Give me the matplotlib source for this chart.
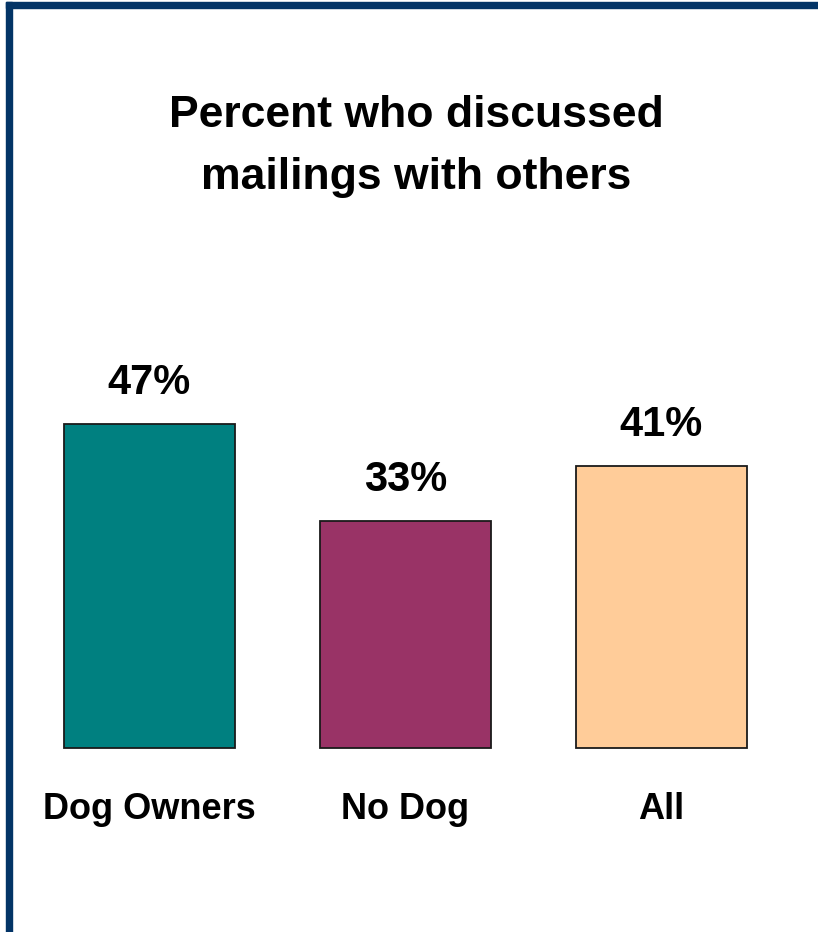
import matplotlib.pyplot as plt
from matplotlib.patches import Rectangle

categories = ["Dog Owners", "No Dog", "All"]
values = [47, 33, 41]
colors = ["#008080", "#993366", "#FFCC99"]

plt.rcParams['font.family'] = ['Liberation Sans', 'DejaVu Sans']

fig = plt.figure(figsize=(8.18, 9.32), dpi=100)
ax = fig.add_axes([0, 0, 1, 1])

# scale: 256 px per category, ~6.89 px per percent point
px_x = 256.0
px_y = 6.89
ax.set_xlim(-149.5 / px_x, (818 - 149.5) / px_x)
ax.set_ylim(-184 / px_y, (932 - 184) / px_y)
ax.axis('off')

xs = range(len(categories))
ax.bar(xs, values, width=171 / px_x, color=colors, edgecolor='#1a1a1a', linewidth=1.3)

for x, v in zip(xs, values):
    ax.text(x, v + 30 / px_y, "{}%".format(v), ha='center', va='baseline',
            fontsize=30, fontweight='bold')

for x, c in zip(xs, categories):
    ax.text(x, -71 / px_y, c, ha='center', va='baseline',
            fontsize=26, fontweight='bold')

fig.text(416.5 / 818, 1 - 127 / 932, "Percent who discussed", ha='center',
         va='baseline', fontsize=32, fontweight='bold')
fig.text(416.5 / 818, 1 - 189 / 932, "mailings with others", ha='center',
         va='baseline', fontsize=32, fontweight='bold')

# dark blue frame on left and top
navy = "#033466"
fig.patches.append(Rectangle((6 / 818, 0), 6 / 818, 1 - 2 / 932, transform=fig.transFigure,
                             color=navy, zorder=5))
fig.patches.append(Rectangle((6 / 818, 1 - 8 / 932), 1, 6 / 932, transform=fig.transFigure,
                             color=navy, zorder=5))

fig.savefig("out.png", dpi=100)
